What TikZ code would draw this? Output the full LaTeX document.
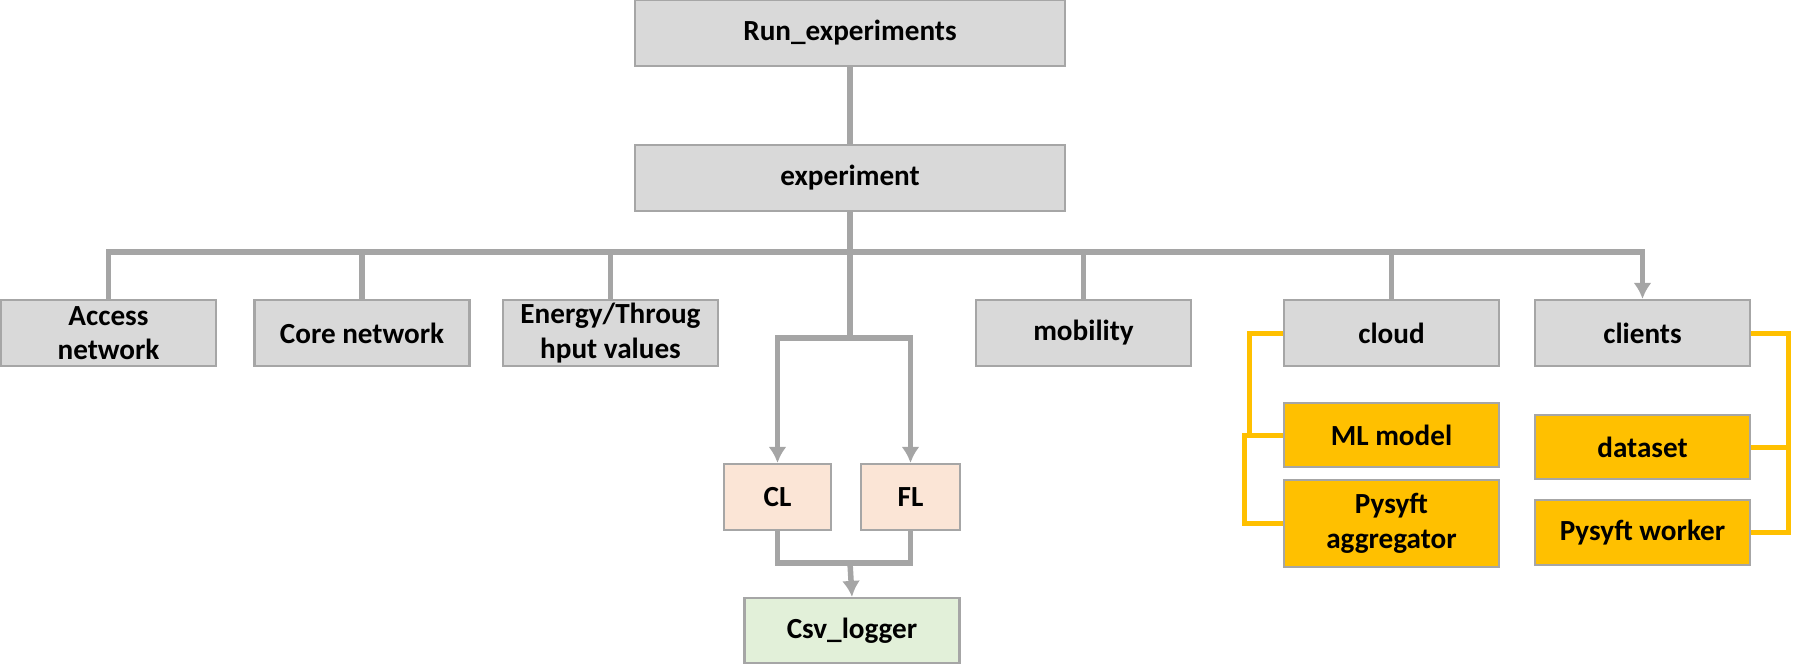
\documentclass[tikz,border=0pt]{standalone}
\usepackage{fontspec}
\setmainfont{Carlito}
\usetikzlibrary{arrows.meta}
\definecolor{boxgray}{HTML}{D9D9D9}
\definecolor{edgegray}{HTML}{A6A6A6}
\definecolor{linegray}{HTML}{A5A5A5}
\definecolor{peach}{HTML}{FBE5D6}
\definecolor{mint}{HTML}{E2F0D9}
\definecolor{gold}{HTML}{FFC000}
\begin{document}
\begin{tikzpicture}[
  box/.style={draw=edgegray,line width=0.22mm,fill=boxgray,minimum width=2.15cm,minimum height=0.66cm,inner sep=0pt,align=center,font=\fontsize{8.3}{9.8}\selectfont\bfseries},
  small/.style={box,fill=peach,minimum width=1.03cm},
  logbox/.style={box,fill=mint},
  goldbox/.style={box,fill=gold},
  conn/.style={draw=linegray,line width=0.55mm},
  arr/.style={conn,-{Latex[length=1.6mm,width=1.8mm]}},
  yconn/.style={draw=gold,line width=0.5mm}]
\useasboundingbox (0,0) rectangle (17.94,-6.66);
\node [box,minimum width=4.3cm] (run) at (8.5,-0.33) {Run\_experiments};
\node [box,minimum width=4.3cm] (exp) at (8.5,-1.78) {experiment};
\node [box] (access) at (1.085,-3.33) {Access\\network};
\node [box] (core) at (3.62,-3.33) {Core network};
\node [box] (energy) at (6.105,-3.33) {Energy/Throug\\hput values};
\node [box] (mobility) at (10.835,-3.33) {mobility};
\node [box] (cloud) at (13.915,-3.33) {cloud};
\node [box] (clients) at (16.425,-3.33) {clients};
\node [small,minimum width=1.07cm] (cl) at (7.775,-4.97) {CL};
\node [small,minimum width=0.99cm] (fl) at (9.105,-4.97) {FL};
\node [logbox,minimum height=0.65cm] (csv) at (8.52,-6.305) {Csv\_logger};
\node [goldbox,minimum height=0.64cm] (ml) at (13.915,-4.35) {ML model};
\node [goldbox,minimum height=0.87cm] (pagg) at (13.915,-5.235) {Pysyft\\aggregator};
\node [goldbox,minimum height=0.64cm] (dataset) at (16.425,-4.47) {dataset};
\node [goldbox,minimum height=0.65cm] (worker) at (16.425,-5.325) {Pysyft worker};
\coordinate (bus) at (8.5,-2.52);
\coordinate (split) at (8.5,-3.38);
\coordinate (merge) at (8.5,-5.63);
\draw [conn] (run.south)--(exp.north);
\draw [conn] (exp.south)--(bus);
\draw [conn] (bus)-|(access.north);
\draw [conn] (bus)-|(core.north);
\draw [conn] (bus)-|(energy.north);
\draw [conn] (bus)-|(mobility.north);
\draw [conn] (bus)-|(cloud.north);
\draw [arr] (bus)-|(clients.north);
\draw [conn] (bus)--(split);
\draw [arr] (split)-|(cl.north);
\draw [arr] (split)-|(fl.north);
\draw [conn] (cl.south)|-(merge)-|(fl.south);
\draw [arr] (merge)--(csv.north);
\draw [yconn] (cloud.west)--++(-0.33,0)|-(ml.west);
\draw [yconn] (ml.west)--++(-0.38,0)|-(pagg.west);
\draw [yconn] (clients.east)--++(0.37,0)|-(dataset.east);
\draw [yconn] (dataset.east)--++(0.37,0)|-(worker.east);
\end{tikzpicture}
\end{document}
